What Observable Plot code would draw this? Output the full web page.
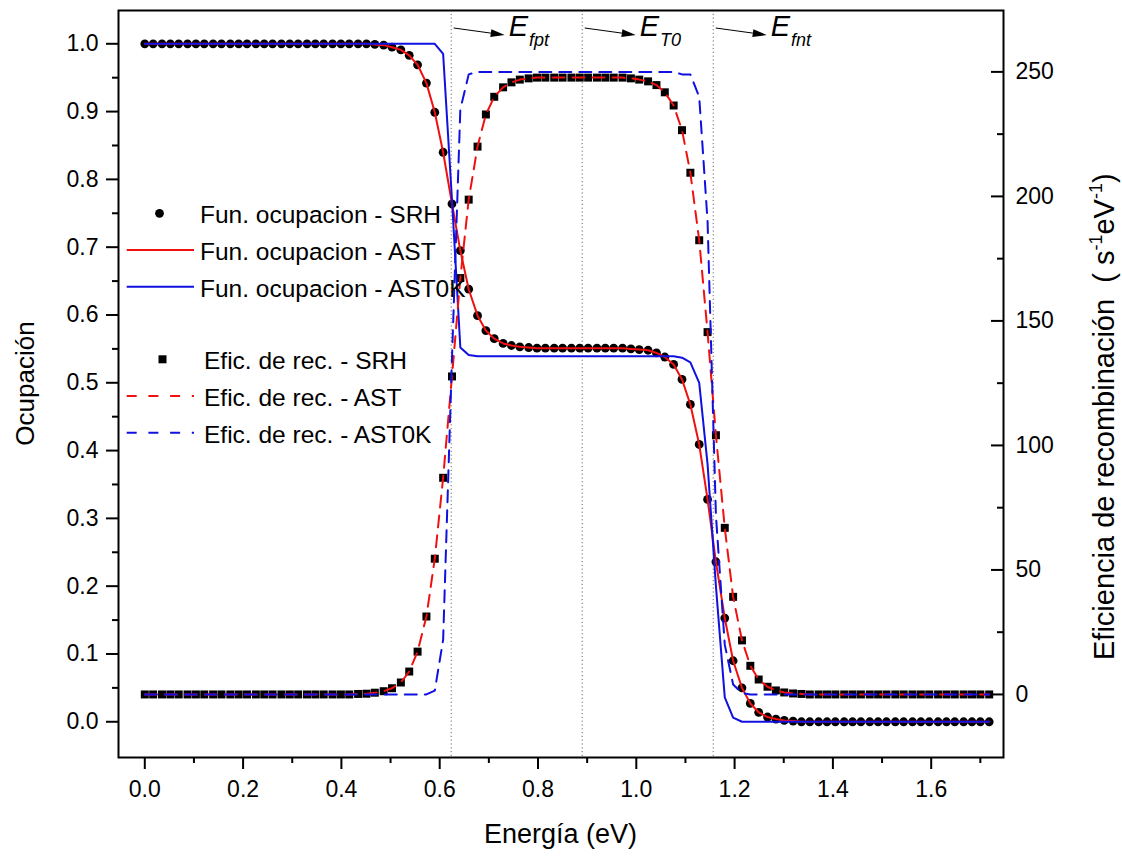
<!DOCTYPE html>
<html>
<head>
<meta charset="utf-8">
<script src="https://cdn.jsdelivr.net/npm/d3@7"></script>
<script src="https://cdn.jsdelivr.net/npm/@observablehq/plot@0.6"></script>
<style>
  html, body { margin: 0; padding: 0; background: #ffffff; }
  #chart { width: 1122px; height: 859px; }
  svg text { font-family: "Liberation Sans", Arial, sans-serif; }
</style>
</head>
<body>
<div id="chart"></div>
<script>
// ---------------- data ----------------
const energy = [
  0.000,0.017,0.035,0.052,0.069,0.087,0.104,0.121,0.139,0.156,
  0.174,0.191,0.208,0.226,0.243,0.260,0.278,0.295,0.312,0.330,
  0.347,0.364,0.382,0.399,0.416,0.434,0.451,0.468,0.486,0.503,
  0.521,0.538,0.555,0.573,0.590,0.607,0.625,0.642,0.659,0.677,
  0.694,0.711,0.729,0.746,0.763,0.781,0.798,0.815,0.833,0.850,
  0.868,0.885,0.902,0.920,0.937,0.954,0.972,0.989,1.006,1.024,
  1.041,1.058,1.076,1.093,1.110,1.128,1.145,1.162,1.180,1.197,
  1.215,1.232,1.249,1.267,1.284,1.301,1.319,1.336,1.353,1.371,
  1.388,1.405,1.423,1.440,1.457,1.475,1.492,1.509,1.527,1.544,
  1.562,1.579,1.596,1.614,1.631,1.648,1.666,1.683,1.700,1.718
];

// Fun. ocupacion - SRH (circles), left axis
const occSRH = [
  1,1,1,1,1,1,1,1,1,1,
  1,1,1,1,1,1,1,1,1,1,
  1,1,1,1,1,1,1,0.999,0.998,0.995,
  0.991,0.983,0.969,0.942,0.899,0.840,0.764,0.695,0.638,0.599,
  0.577,0.565,0.558,0.555,0.553,0.552,0.551,0.551,0.551,0.551,
  0.551,0.551,0.551,0.551,0.551,0.551,0.551,0.550,0.549,0.548,
  0.544,0.538,0.527,0.505,0.468,0.409,0.328,0.236,0.153,0.090,
  0.050,0.027,0.014,0.007,0.004,0.002,0.001,0,0,0,
  0,0,0,0,0,0,0,0,0,0,
  0,0,0,0,0,0,0,0,0,0
];
// Fun. ocupacion - AST (red solid), left axis
const occAST = [
  1,1,1,1,1,1,1,1,1,1,
  1,1,1,1,1,1,1,1,1,1,
  1,1,1,1,1,1,1,0.999,0.998,0.995,
  0.991,0.983,0.969,0.942,0.899,0.840,0.764,0.695,0.638,0.599,
  0.577,0.565,0.558,0.555,0.553,0.552,0.551,0.551,0.551,0.551,
  0.551,0.551,0.551,0.551,0.551,0.551,0.551,0.550,0.549,0.548,
  0.544,0.538,0.527,0.505,0.468,0.409,0.328,0.236,0.153,0.090,
  0.050,0.027,0.014,0.007,0.004,0.002,0.001,0,0,0,
  0,0,0,0,0,0,0,0,0,0,
  0,0,0,0,0,0,0,0,0,0
];
// Fun. ocupacion - AST0K (blue solid), left axis
const occAST0K = [
  1,1,1,1,1,1,1,1,1,1,
  1,1,1,1,1,1,1,1,1,1,
  1,1,1,1,1,1,1,1,1,1,
  1,1,1,1,1,0.985,0.770,0.552,0.541,0.539,
  0.539,0.539,0.539,0.539,0.539,0.539,0.539,0.539,0.539,0.539,
  0.539,0.539,0.539,0.539,0.539,0.539,0.539,0.539,0.539,0.539,
  0.539,0.539,0.539,0.537,0.530,0.500,0.380,0.200,0.036,0.006,
  0,0,0,0,0,0,0,0,0,0,
  0,0,0,0,0,0,0,0,0,0,
  0,0,0,0,0,0,0,0,0,0
];
// Efic. de rec. - SRH (squares), right axis, s^-1 eV^-1
const effSRH = [
  0,0,0,0,0,0,0,0,0,0,
  0,0,0,0,0,0,0,0,0,0,
  0,0,0,0,0,0.2,0.3,0.7,1.3,2.5,
  4.8,9.2,17.2,31.3,54.5,87.0,127.7,167.2,198.7,220.0,
  232.9,240.0,243.8,245.8,246.9,247.4,247.7,247.7,247.7,247.7,
  247.7,247.7,247.7,247.7,247.7,247.7,247.7,247.4,246.9,246.2,
  244.7,241.8,236.5,226.6,209.5,182.4,145.5,104.1,66.9,39.2,
  21.7,11.5,6.0,3.1,1.6,0.8,0.4,0.2,0,0,
  0,0,0,0,0,0,0,0,0,0,
  0,0,0,0,0,0,0,0,0,0
];
// Efic. de rec. - AST (red dashed), right axis
const effAST = [
  0,0,0,0,0,0,0,0,0,0,
  0,0,0,0,0,0,0,0,0,0,
  0,0,0,0,0,0.2,0.3,0.7,1.3,2.5,
  4.8,9.2,17.2,31.3,54.5,87.0,127.7,167.2,198.7,220.0,
  232.9,240.0,243.8,245.8,246.9,247.4,247.7,247.7,247.7,247.7,
  247.7,247.7,247.7,247.7,247.7,247.7,247.7,247.4,246.9,246.2,
  244.7,241.8,236.5,226.6,209.5,182.4,145.5,104.1,66.9,39.2,
  21.7,11.5,6.0,3.1,1.6,0.8,0.4,0.2,0,0,
  0,0,0,0,0,0,0,0,0,0,
  0,0,0,0,0,0,0,0,0,0
];
// Efic. de rec. - AST0K (blue dashed), right axis
const effAST0K = [
  0,0,0,0,0,0,0,0,0,0,
  0,0,0,0,0,0,0,0,0,0,
  0,0,0,0,0,0,0,0,0,0,
  0,0,0,0,1.5,22,135,235,249,250,
  250,250,250,250,250,250,250,250,250,250,
  250,250,250,250,250,250,250,250,250,250,
  250,250,250,249,249,240,190,72,20,4,
  0.5,0,0,0,0,0,0,0,0,0,
  0,0,0,0,0,0,0,0,0,0,
  0,0,0,0,0,0,0,0,0,0
];

// characteristic energies (dotted lines)
const levelEnergies = [0.6234, 0.890, 1.1565];
const levelSubscripts = ["fpt", "T0", "fnt"];

// axis ticks
const energyTicks = [0, 0.2, 0.4, 0.6, 0.8, 1.0, 1.2, 1.4, 1.6];
const energyMinorTicks = [0.1, 0.3, 0.5, 0.7, 0.9, 1.1, 1.3, 1.5, 1.7];
const occTicks = [0, 0.1, 0.2, 0.3, 0.4, 0.5, 0.6, 0.7, 0.8, 0.9, 1.0];
const occMinorTicks = [0.05, 0.15, 0.25, 0.35, 0.45, 0.55, 0.65, 0.75, 0.85, 0.95];
const effTicks = [0, 50, 100, 150, 200, 250];
const effMinorTicks = [25, 75, 125, 175, 225];

// legend
const legendLabels = [
  "Fun. ocupacion - SRH", "Fun. ocupacion - AST", "Fun. ocupacion - AST0K",
  "Efic. de rec. - SRH", "Efic. de rec. - AST", "Efic. de rec. - AST0K"
];

// ---------------- chart ----------------
const RED = "#f01010", BLUE = "#1010e0";
const W = 1122, H = 859, mL = 118, mR = 119, mT = 10, mB = 102;
const plotW = W - mL - mR;

// right axis (efficiency) expressed in left-axis units
const effZero = 0.0403, effPerUnit = 0.003673;
const effToOcc = v => effZero + v * effPerUnit;

const rows = energy.map((E, i) => ({
  E, occSRH: occSRH[i], occAST: occAST[i], occAST0K: occAST0K[i],
  effSRH: effSRH[i], effAST: effAST[i], effAST0K: effAST0K[i]
}));

const plot = Plot.plot({
  width: W, height: H,
  marginLeft: mL, marginRight: mR, marginTop: mT, marginBottom: mB,
  style: { fontFamily: "Liberation Sans, Arial, sans-serif", fontSize: "23px", color: "black", background: "white" },
  x: { domain: [-0.0535, 1.7471] },
  y: { domain: [-0.0527, 1.0491] },
  marks: [
    Plot.ruleX(levelEnergies, { stroke: "#6a6a6a", strokeWidth: 1, strokeDasharray: "1.2,2.6" }),
    Plot.dot(rows, { x: "E", y: "occSRH", r: 4.4, fill: "black" }),
    Plot.dot(rows, { x: "E", y: d => effToOcc(d.effSRH), symbol: "square", r: 4.5, fill: "black" }),
    Plot.line(rows, { x: "E", y: "occAST", stroke: RED, strokeWidth: 2 }),
    Plot.line(rows, { x: "E", y: "occAST0K", stroke: BLUE, strokeWidth: 2 }),
    Plot.line(rows, { x: "E", y: d => effToOcc(d.effAST), stroke: RED, strokeWidth: 2, strokeDasharray: "12,8" }),
    Plot.line(rows, { x: "E", y: d => effToOcc(d.effAST0K), stroke: BLUE, strokeWidth: 2, strokeDasharray: "12,8" }),
    // left axis
    Plot.axisY({ ticks: occTicks, anchor: "left", tickSize: 12, tickPadding: 8, strokeWidth: 2,
                 tickFormat: d3.format(".1f"), fontSize: 23, label: null }),
    Plot.axisY({ ticks: occMinorTicks, anchor: "left", tickSize: 6, strokeWidth: 2,
                 tickFormat: () => "", label: null }),
    // bottom axis
    Plot.axisX({ ticks: energyTicks, anchor: "bottom", tickSize: 12, tickPadding: 11, strokeWidth: 2,
                 tickFormat: d3.format(".1f"), fontSize: 23, label: null }),
    Plot.axisX({ ticks: energyMinorTicks, anchor: "bottom", tickSize: 6, strokeWidth: 2,
                 tickFormat: () => "", label: null }),
    // right axis (ticks inward)
    Plot.ruleY(effTicks, { y: v => effToOcc(v), insetLeft: plotW - 12, strokeWidth: 2 }),
    Plot.ruleY(effMinorTicks, { y: v => effToOcc(v), insetLeft: plotW - 6, strokeWidth: 2 }),
    Plot.text(effTicks, { y: v => effToOcc(v), text: d => String(d), frameAnchor: "right",
                          textAnchor: "start", dx: 12, fontSize: 23 }),
    Plot.frame({ stroke: "black", strokeWidth: 2 })
  ]
});

document.getElementById("chart").appendChild(plot);

// ---------------- titles, annotations, legend ----------------
const svg = d3.select(plot);
const sx = plot.scale("x");
const FONT = "Liberation Sans, Arial, sans-serif";

// axis titles
svg.append("text").attr("x", mL + plotW / 2).attr("y", 843)
  .attr("text-anchor", "middle").attr("font-size", 27).attr("font-family", FONT)
  .attr("fill", "black").text("Energía (eV)");

svg.append("text").attr("transform", `translate(34,${mT + (H - mT - mB) / 2}) rotate(-90)`)
  .attr("text-anchor", "middle").attr("font-size", 26).attr("font-family", FONT)
  .attr("fill", "black").text("Ocupación");

const rt = svg.append("text").attr("transform", `translate(1114,660) rotate(-90)`)
  .attr("text-anchor", "start").attr("font-size", 29).attr("font-family", FONT).attr("fill", "black");
rt.append("tspan").text("Eficiencia de recombinación\u00a0\u00a0(\u00a0s");
rt.append("tspan").attr("font-size", 18).attr("dy", -12).text("-1");
rt.append("tspan").attr("dy", 12).text("eV");
rt.append("tspan").attr("font-size", 18).attr("dy", -12).text("-1");
rt.append("tspan").attr("dy", 12).text(")");

// level annotations: arrow + E_sub
levelEnergies.forEach((E, i) => {
  const x0 = sx.apply(E);
  const xa = x0 + 3, ya = mT + 18, xt = x0 + 54, yt = mT + 25;
  const dxv = xt - xa, dyv = yt - ya, len = Math.hypot(dxv, dyv);
  const ux = dxv / len, uy = dyv / len, hl = 14, hw = 4;
  const bx = xt - hl * ux, by = yt - hl * uy;
  svg.append("line").attr("x1", xa).attr("y1", ya).attr("x2", bx).attr("y2", by)
    .attr("stroke", "black").attr("stroke-width", 1);
  svg.append("polygon")
    .attr("points", `${xt},${yt} ${bx - hw * uy},${by + hw * ux} ${bx + hw * uy},${by - hw * ux}`)
    .attr("fill", "black");
  const t = svg.append("text").attr("x", x0 + 58).attr("y", mT + 26)
    .attr("text-anchor", "start")
    .attr("font-family", FONT).attr("font-style", "italic").attr("fill", "black");
  t.append("tspan").attr("font-size", 29).text("E");
  t.append("tspan").attr("font-size", 18).attr("dx", 1).attr("dy", 10).text(levelSubscripts[i]);
});

// legend
const legendBaselines = [223.3, 260, 296.7, 369.3, 406, 442.7];
const legendTextX = [200, 200, 200, 204, 204, 204];
const lg = svg.append("g").attr("text-anchor", "start");
legendLabels.forEach((label, i) => {
  const yb = legendBaselines[i], yc = yb - 10;
  if (i === 0) {
    lg.append("circle").attr("cx", 159.5).attr("cy", yc).attr("r", 4.4).attr("fill", "black");
  } else if (i === 3) {
    lg.append("rect").attr("x", 158.5).attr("y", yc - 4).attr("width", 8).attr("height", 8).attr("fill", "black");
  } else {
    const color = (i === 1 || i === 4) ? RED : BLUE;
    const ln = lg.append("line").attr("x1", 126.7).attr("x2", 194).attr("y1", yc).attr("y2", yc)
      .attr("stroke", color).attr("stroke-width", 2);
    if (i >= 4) ln.attr("stroke-dasharray", "10,11.7");
  }
  lg.append("text").attr("x", legendTextX[i]).attr("y", yb).attr("text-anchor", "start")
    .attr("font-size", 24.5).attr("font-family", FONT).attr("fill", "black").text(label);
});
</script>
</body>
</html>
